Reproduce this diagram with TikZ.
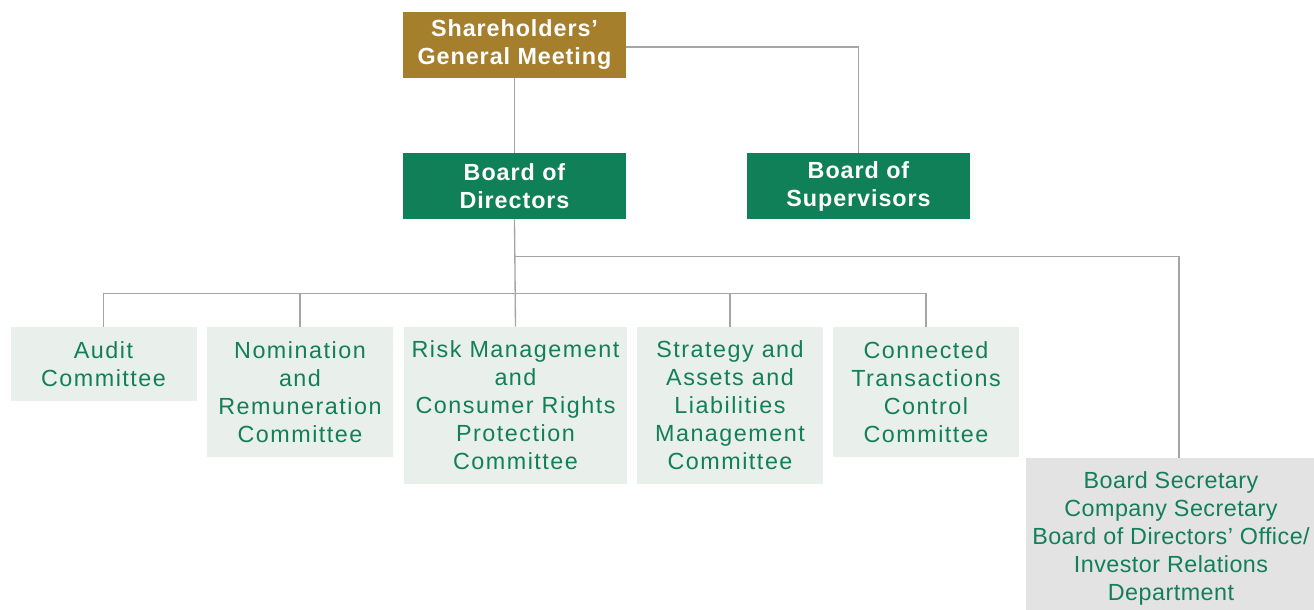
\documentclass[tikz,border=0pt]{standalone}
\usepackage{fontspec}
\setmainfont{Liberation Sans}[LetterSpace=6.5,BoldFeatures={LetterSpace=4}]
\newfontfamily\secfont{Liberation Sans}[LetterSpace=2]
\definecolor{gold}{HTML}{A67F2D}
\definecolor{dgreen}{HTML}{0F8058}
\definecolor{lgreen}{HTML}{E9EFEB}
\definecolor{lgray}{HTML}{E3E3E3}
\definecolor{tgreen}{HTML}{137F59}
\definecolor{conn}{HTML}{A5A5A5}
\begin{document}
\begin{tikzpicture}[x=0.75pt,y=-0.75pt,
  every node/.style={inner sep=0pt,align=center,font=\fontsize{17.5}{21}\selectfont},
  topbox/.style={fill=#1,text=white,font=\fontsize{17.5}{21}\selectfont\bfseries,minimum width=167.25pt,minimum height=49.5pt},
  comm/.style={fill=lgreen,text=tgreen},
  secbox/.style={fill=lgray},
  sectext/.style={text=tgreen,font=\fontsize{17.5}{21}\secfont},
  link/.style={draw=conn,line width=1pt}]
\useasboundingbox (0,0) rectangle (1314,610);
\node[topbox=gold] (sgm) at (514.5,45) {Shareholders’\\General Meeting};
\node[topbox=dgreen] (bod) at (514.5,186) {Board of\\Directors};
\node[topbox=dgreen] (bos) at (858.5,186) {Board of\\Supervisors};
\node[comm,minimum width=139.5pt,minimum height=55.5pt] (audit) at (103.5,364) {Audit\\Committee};
\node[comm,minimum width=139.5pt,minimum height=97.5pt] (nom) at (300,392) {Nomination\\and\\Remuneration\\Committee};
\node[comm,minimum width=167.25pt,minimum height=117.75pt] (risk) at (515.5,405.5) {Risk Management\\and\\Consumer Rights\\Protection\\Committee};
\node[comm,minimum width=139.5pt,minimum height=117.75pt] (strat) at (730,405.5) {Strategy and\\Assets and\\Liabilities\\Management\\Committee};
\node[comm,minimum width=139.5pt,minimum height=97.5pt] (ctc) at (926,392) {Connected\\Transactions\\Control\\Committee};
\node[secbox,minimum width=216pt,minimum height=114pt] (sec) at (1170,534) {};
\node[sectext] (sect) at (1171,538) {Board Secretary\\Company Secretary\\Board of Directors’ Office/\\Investor Relations\\Department};
\coordinate (secin) at ([xshift=6.75pt]sec.north);
\draw[link] (sgm.south) -- (bod.north);
\draw[link] ([yshift=-1.5pt]sgm.east) -| (bos.north);
\draw[link] (bod.south) -- (risk.north);
\draw[link] (audit.north) -- ++(0,-33) -| (ctc.north);
\draw[link] (nom.north) -- ++(0,-33);
\draw[link] (strat.north) -- ++(0,-33);
\draw[link] (bod.south) ++(0,37) -| (secin);
\end{tikzpicture}
\end{document}
